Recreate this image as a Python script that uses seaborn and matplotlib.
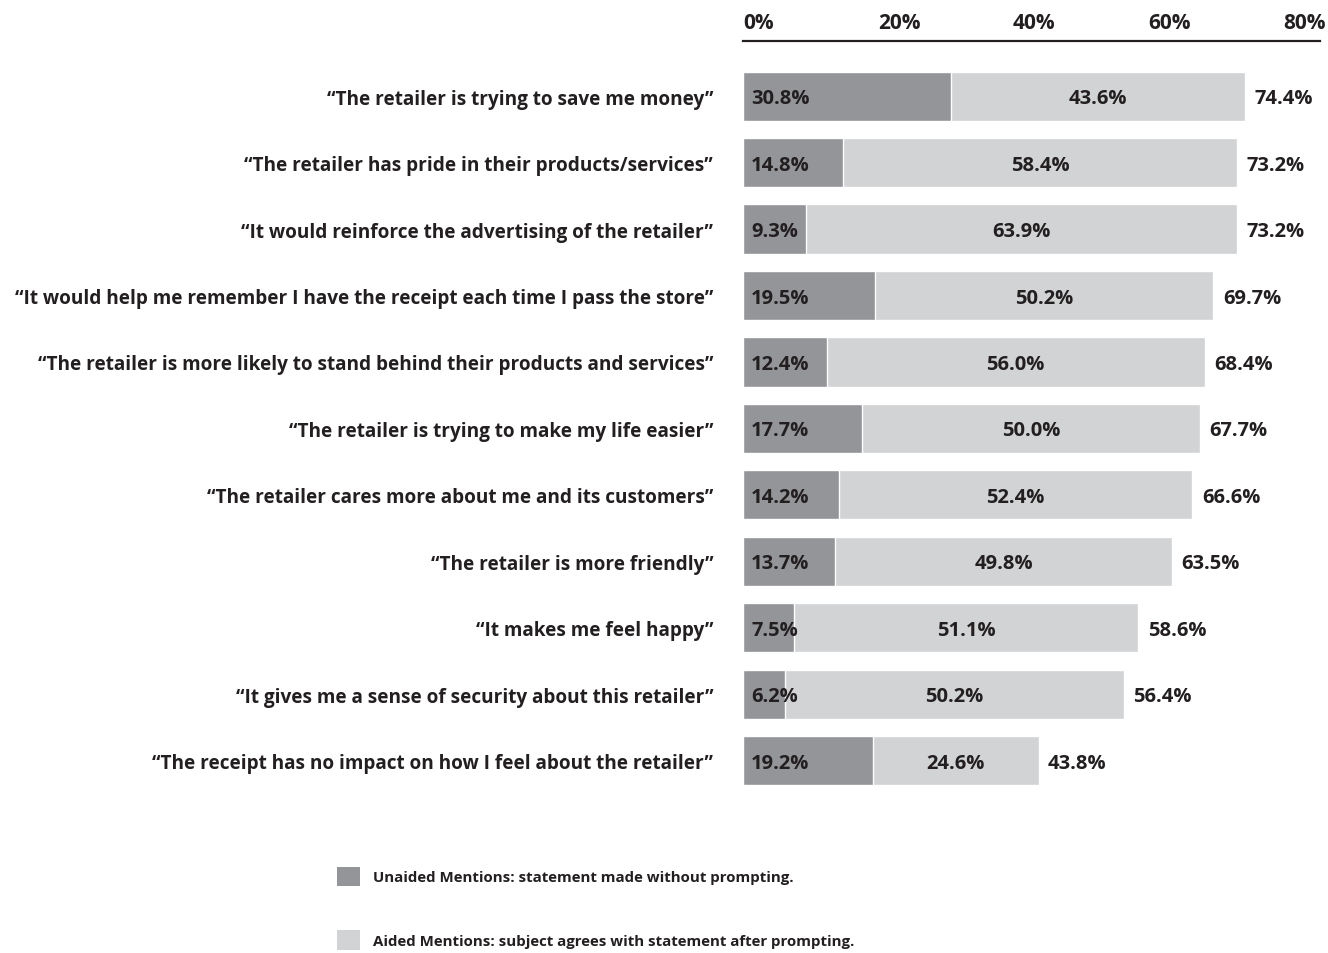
import matplotlib
matplotlib.use("Agg")
import matplotlib.pyplot as plt
import seaborn as sns
import pandas as pd
from matplotlib.patches import Patch

statements = [
    "\u201cThe retailer is trying to save me money\u201d",
    "\u201cThe retailer has pride in their products/services\u201d",
    "\u201cIt would reinforce the advertising of the retailer\u201d",
    "\u201cIt would help me remember I have the receipt each time I pass the store\u201d",
    "\u201cThe retailer is more likely to stand behind their products and services\u201d",
    "\u201cThe retailer is trying to make my life easier\u201d",
    "\u201cThe retailer cares more about me and its customers\u201d",
    "\u201cThe retailer is more friendly\u201d",
    "\u201cIt makes me feel happy\u201d",
    "\u201cIt gives me a sense of security about this retailer\u201d",
    "\u201cThe receipt has no impact on how I feel about the retailer\u201d",
]
unaided = [30.8, 14.8, 9.3, 19.5, 12.4, 17.7, 14.2, 13.7, 7.5, 6.2, 19.2]
aided = [43.6, 58.4, 63.9, 50.2, 56.0, 50.0, 52.4, 49.8, 51.1, 50.2, 24.6]
totals = [74.4, 73.2, 73.2, 69.7, 68.4, 67.7, 66.6, 63.5, 58.6, 56.4, 43.8]
xticks = [0, 20, 40, 60, 80]
xtick_labels = ["0%", "20%", "40%", "60%", "80%"]
legend_labels = ["Unaided Mentions: statement made without prompting.",
                 "Aided Mentions: subject agrees with statement after prompting."]

DARK = "#939598"
LIGHT = "#d1d3d4"
TXT = "#231f20"
FONT = ['Open Sans', 'DejaVu Sans']

sns.set_style("white")
plt.rcParams['font.family'] = FONT

df = pd.DataFrame({"statement": statements, "unaided": unaided,
                   "aided": aided, "total": totals})

fig = plt.figure(figsize=(13.28, 9.54), dpi=100)
ax = fig.add_axes([0.5595, 0.1667, 0.4345, 0.7893])

sns.barplot(data=df, x="total", y="statement", color=LIGHT, width=0.74,
            saturation=1, ax=ax, orient="h")
sns.barplot(data=df, x="unaided", y="statement", color=DARK, width=0.74,
            saturation=1, ax=ax, orient="h")

ax.set_xlim(0, 85.5)
ax.set_ylim(10.5, -0.83)

VS = 14.5
for i, (u, a, t) in enumerate(zip(unaided, aided, totals)):
    ax.text(1.2, i + 0.03, f"{u:.1f}%", ha="left", va="center", fontsize=VS,
            fontweight="bold", color=TXT)
    ax.text(u + a / 2, i + 0.03, f"{a:.1f}%", ha="center", va="center", fontsize=VS,
            fontweight="bold", color=TXT)
    ax.text(t + 1.4, i + 0.03, f"{t:.1f}%", ha="left", va="center", fontsize=VS,
            fontweight="bold", color=TXT)

ax.xaxis.tick_top()
ax.set_xticks(xticks)
ax.set_xticklabels(xtick_labels, fontsize=15, fontweight="bold", color=TXT,
                   ha="left")
ax.tick_params(axis="x", length=0, pad=6)
ax.tick_params(axis="y", length=0, pad=21.5)
for lbl in ax.get_yticklabels():
    lbl.set_fontsize(13.65)
    lbl.set_fontweight("bold")
    lbl.set_color(TXT)
ax.set_xlabel("")
ax.set_ylabel("")

for s in ["right", "bottom", "left"]:
    ax.spines[s].set_visible(False)
ax.spines["top"].set_visible(True)
ax.spines["top"].set_color(TXT)
ax.spines["top"].set_linewidth(1.6)

handles = [Patch(facecolor=DARK, edgecolor="none"),
           Patch(facecolor=LIGHT, edgecolor="none")]
leg = fig.legend(handles, legend_labels, loc="upper left",
                 bbox_to_anchor=(0.2538, 0.0905), frameon=False,
                 prop={"family": FONT, "weight": "bold", "size": 10.8},
                 handlelength=1.55, handleheight=1.65, handletextpad=0.85,
                 labelspacing=2.9, borderpad=0, borderaxespad=0)
for t in leg.get_texts():
    t.set_color(TXT)

fig.savefig("out.png", dpi=100)
